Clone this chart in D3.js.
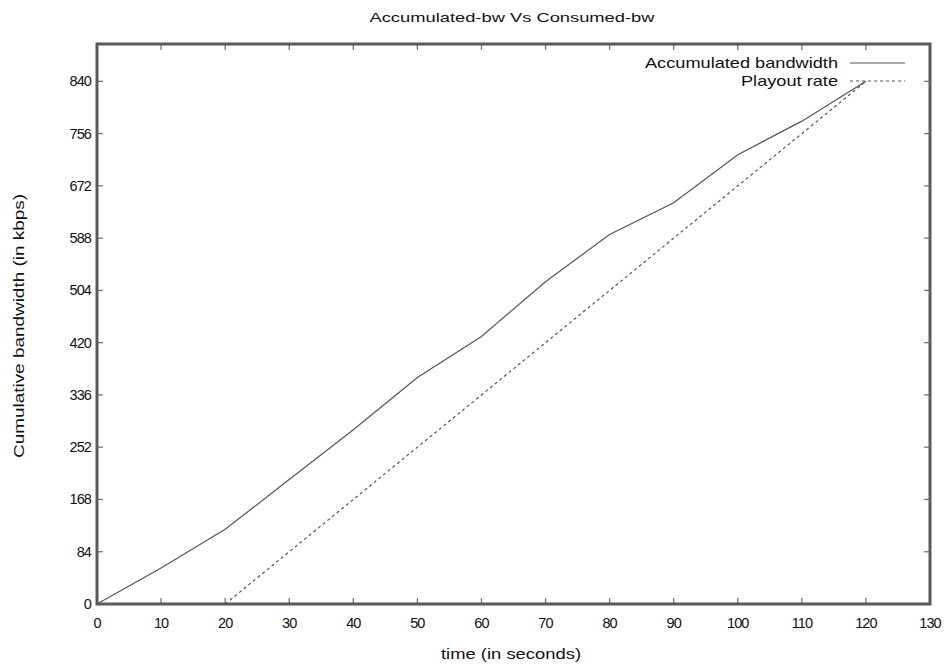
<!DOCTYPE html>
<html><head><meta charset="utf-8">
<script src="https://cdn.jsdelivr.net/npm/d3@7"></script>
<style>body{margin:0;background:#fff}text{font-family:"Liberation Sans",Arial,sans-serif;fill:#111}</style>
</head><body><svg id="c" width="949" height="664"></svg>
<script>
const accTime = [0,10,20,30,40,50,60,70,80,90,100,110,120];
const accBw   = [0,58,120,200,280,364,430,518,594,645,722,776,840];
const playTime = [20,120];
const playBw   = [0,840];
const xTicks = [0,10,20,30,40,50,60,70,80,90,100,110,120,130];
const yTicks = [0,84,168,252,336,420,504,588,672,756,840];

const svg = d3.select("#c");
const x = d3.scaleLinear().domain([0,130]).range([97,930]);
const y = d3.scaleLinear().domain([0,900]).range([604,44]);
const frameCol = "#5a5a5a";

// ticks (inward, mirrored)
const tl = 6;
const g = svg.append("g").attr("stroke", "#777").attr("stroke-width", 1.3);
xTicks.forEach(t => {
  g.append("line").attr("x1", x(t)).attr("x2", x(t)).attr("y1", y.range()[0]).attr("y2", y.range()[0]-tl);
  g.append("line").attr("x1", x(t)).attr("x2", x(t)).attr("y1", y.range()[1]).attr("y2", y.range()[1]+tl);
});
yTicks.forEach(t => {
  g.append("line").attr("y1", y(t)).attr("y2", y(t)).attr("x1", x.range()[0]).attr("x2", x.range()[0]+tl);
  g.append("line").attr("y1", y(t)).attr("y2", y(t)).attr("x1", x.range()[1]).attr("x2", x.range()[1]-tl);
});

// frame
svg.append("rect").attr("x", x.range()[0]).attr("y", y.range()[1])
  .attr("width", x.range()[1]-x.range()[0]).attr("height", y.range()[0]-y.range()[1])
  .attr("fill","none").attr("stroke", frameCol).attr("stroke-width", 3);

// tick labels
svg.append("g").selectAll("text").data(xTicks).join("text")
  .attr("x", d => x(d)).attr("y", 628).attr("text-anchor","middle")
  .attr("font-size", 14.5).attr("letter-spacing", -0.9).text(d => d);
svg.append("g").selectAll("text").data(yTicks).join("text")
  .attr("x", 91).attr("y", d => y(d)+5).attr("text-anchor","end")
  .attr("font-size", 14.5).attr("letter-spacing", -0.9).text(d => d);

// lines
const line = d3.line().x(d => x(d[0])).y(d => y(d[1]));
svg.append("path").datum(accTime.map((t,i)=>[t,accBw[i]])).attr("d", line)
  .attr("fill","none").attr("stroke","#555").attr("stroke-width",1.2);
svg.append("path").datum(playTime.map((t,i)=>[t,playBw[i]])).attr("d", line)
  .attr("fill","none").attr("stroke","#555").attr("stroke-width",1.2).attr("stroke-dasharray","3,3");

// legend
const lg = svg.append("g");
lg.append("text").attr("x", 838).attr("y", 68).attr("text-anchor","end").attr("font-size",14.5)
  .attr("textLength",193).attr("lengthAdjust","spacingAndGlyphs").text("Accumulated bandwidth");
lg.append("line").attr("x1",850).attr("x2",905).attr("y1",63).attr("y2",63).attr("stroke","#555").attr("stroke-width",1.1);
lg.append("text").attr("x", 838).attr("y", 86).attr("text-anchor","end").attr("font-size",14.5)
  .attr("textLength",97).attr("lengthAdjust","spacingAndGlyphs").text("Playout rate");
lg.append("line").attr("x1",850).attr("x2",905).attr("y1",81).attr("y2",81).attr("stroke","#555").attr("stroke-width",1.1).attr("stroke-dasharray","3,3");

// titles
svg.append("text").attr("x", 512).attr("y", 22).attr("text-anchor","middle").attr("font-size",13)
  .attr("textLength",285).attr("lengthAdjust","spacingAndGlyphs").text("Accumulated-bw Vs Consumed-bw");
svg.append("text").attr("x", 511).attr("y", 659).attr("text-anchor","middle").attr("font-size",14)
  .attr("textLength",140).attr("lengthAdjust","spacingAndGlyphs").text("time (in seconds)");
svg.append("text").attr("transform","translate(24,326) rotate(-90)").attr("text-anchor","middle").attr("font-size",14)
  .attr("textLength",264).attr("lengthAdjust","spacingAndGlyphs").text("Cumulative bandwidth (in kbps)");
</script></body></html>
